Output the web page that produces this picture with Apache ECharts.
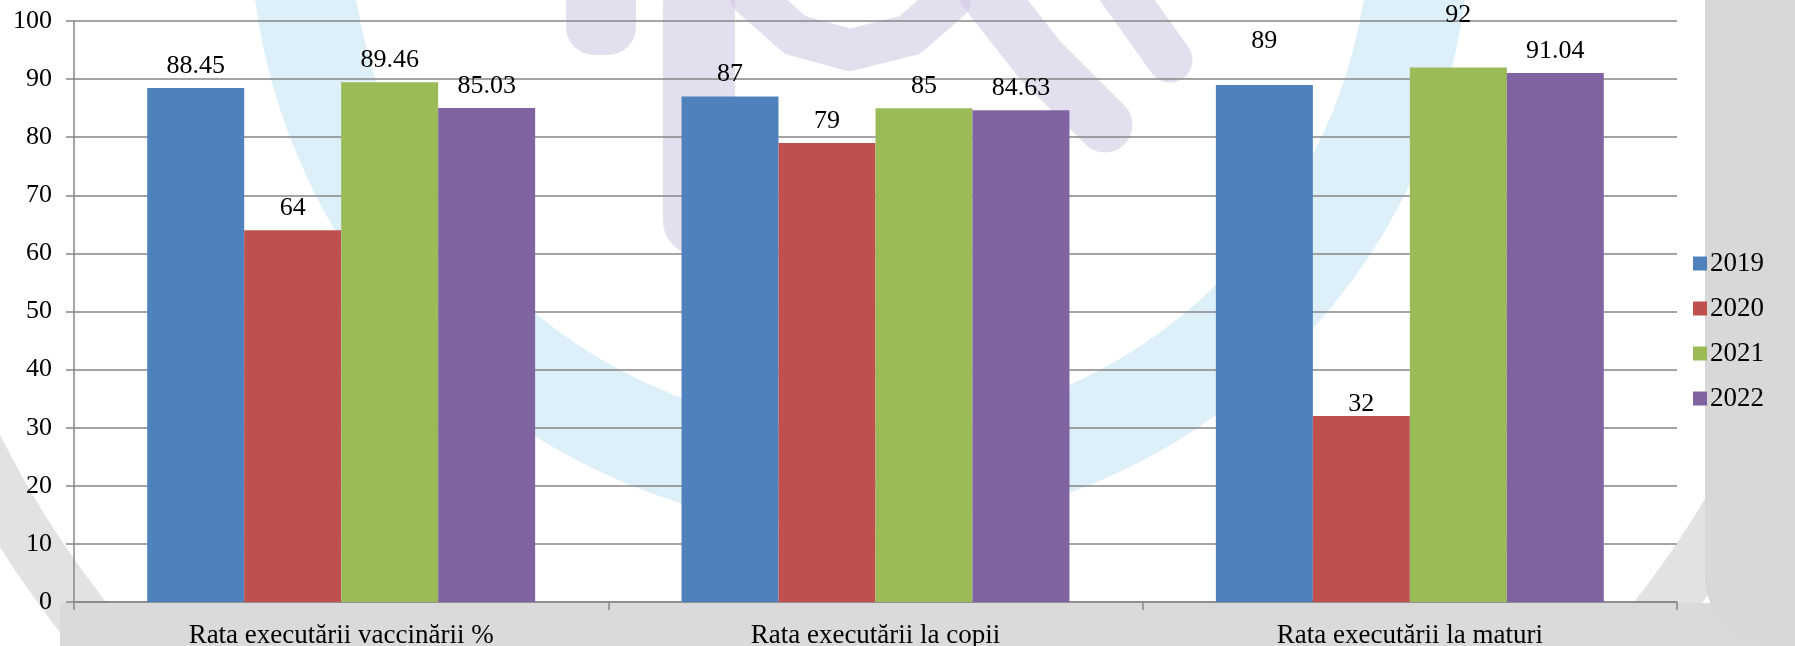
<!DOCTYPE html>
<html>
<head>
<meta charset="utf-8">
<title>Rata executarii</title>
<script src="https://cdn.jsdelivr.net/npm/echarts@6/dist/echarts.min.js"></script>
<style>
  html, body { margin: 0; padding: 0; background: #fff; }
  #chart { width: 1795px; height: 646px; }
</style>
</head>
<body>
<div id="chart"></div>
<script>
// categories + series values
const categories = ['Rata executării vaccinării %', 'Rata executării la copii', 'Rata executării la maturi'];
const years = ['2019', '2020', '2021', '2022'];
const values2019 = [88.45, 87, 89];
const values2020 = [64, 79, 32];
const values2021 = [89.46, 85, 92];
const values2022 = [85.03, 84.63, 91.04];
const yTicks = [0, 10, 20, 30, 40, 50, 60, 70, 80, 90, 100];

const colors = ['#4F81BD', '#C0504D', '#9BBB59', '#8064A2'];
const font = "'Liberation Serif', 'Times New Roman', 'DejaVu Serif', serif";

// a few labels in the original were dragged away from the bar
const labelNudge = { '2019': { 2: -22 }, '2020': { 2: 10 }, '2021': { 2: -30 } };

const seriesValues = [values2019, values2020, values2021, values2022];

const chart = echarts.init(document.getElementById('chart'));

const series = years.map(function (year, i) {
  return {
    name: year,
    type: 'bar',
    barGap: '0%',
    barCategoryGap: '27.4%',
    itemStyle: { color: colors[i] },
    label: {
      show: true,
      position: 'top',
      distance: 9,
      color: '#000',
      fontFamily: font,
      fontSize: 26
    },
    data: seriesValues[i].map(function (v, j) {
      const nudge = labelNudge[year] && labelNudge[year][j];
      if (nudge) {
        return { value: v, label: { offset: [0, nudge] } };
      }
      return v;
    })
  };
});

// faint logo behind the plot (watermark of the source document)
const lilac = 'rgba(205,197,226,0.55)';
const watermark = [
  {
    type: 'circle',
    z: -10,
    shape: { cx: 860, cy: -80, r: 560 },
    style: { fill: 'none', stroke: 'rgba(206,232,245,0.7)', lineWidth: 100 }
  },
  {
    type: 'circle',
    z: -10,
    shape: { cx: 870, cy: 0, r: 1000 },
    style: { fill: 'none', stroke: 'rgba(216,216,216,0.75)', lineWidth: 55 }
  },
  {
    type: 'rect',
    z: -9,
    shape: { x: 60, y: 603, width: 1735, height: 43 },
    style: { fill: '#dadada' }
  },
  {
    type: 'rect',
    z: -9,
    shape: { x: 1705, y: 0, width: 90, height: 646, r: [0, 0, 0, 70] },
    style: { fill: '#d8d8d8' }
  },
  // figure: body, head and arms
  {
    type: 'rect',
    z: -9,
    shape: { x: 663, y: -30, width: 72, height: 285, r: 34 },
    style: { fill: lilac }
  },
  {
    type: 'rect',
    z: -9,
    shape: { x: 566, y: -30, width: 70, height: 85, r: 28 },
    style: { fill: lilac }
  },
  {
    type: 'polyline',
    z: -9,
    shape: { points: [[750, -5], [795, 35], [850, 50], [910, 35], [950, 0]] },
    style: { fill: 'none', stroke: lilac, lineWidth: 42, lineCap: 'round', lineJoin: 'round' }
  },
  {
    type: 'polyline',
    z: -9,
    shape: { points: [[985, -10], [1040, 60], [1105, 125]] },
    style: { fill: 'none', stroke: lilac, lineWidth: 55, lineCap: 'round' }
  },
  {
    type: 'polyline',
    z: -9,
    shape: { points: [[1120, -10], [1170, 60]] },
    style: { fill: 'none', stroke: lilac, lineWidth: 45, lineCap: 'round' }
  }
];

const option = {
  backgroundColor: '#fff',
  animation: false,
  color: colors,
  textStyle: { fontFamily: font },
  graphic: watermark,
  grid: { left: 74, right: 118, top: 21, bottom: 44, containLabel: false, outerBoundsMode: 'none' },
  legend: {
    orient: 'vertical',
    left: 1688,
    top: 245,
    itemWidth: 14,
    itemHeight: 14,
    itemGap: 18,
    icon: 'rect',
    textStyle: { fontFamily: font, fontSize: 27, color: '#000', padding: [0, 0, 0, -2] },
    data: years
  },
  xAxis: {
    type: 'category',
    data: categories,
    axisLine: { lineStyle: { color: '#868686', width: 1.5 } },
    axisTick: { show: true, length: 8, interval: 0, lineStyle: { color: '#868686', width: 1.5 } },
    axisLabel: { fontFamily: font, fontSize: 27, color: '#000', margin: 20, interval: 0 }
  },
  yAxis: {
    type: 'value',
    min: yTicks[0],
    max: yTicks[yTicks.length - 1],
    interval: yTicks[1] - yTicks[0],
    axisLine: { show: true, lineStyle: { color: '#868686', width: 1.5 } },
    axisTick: { show: true, length: 8, lineStyle: { color: '#868686', width: 1.5 } },
    axisLabel: { fontFamily: font, fontSize: 26, color: '#000', margin: 22 },
    splitLine: { lineStyle: { color: '#868686', width: 1.5 } }
  },
  series: series
};

chart.setOption(option);
</script>
</body>
</html>
